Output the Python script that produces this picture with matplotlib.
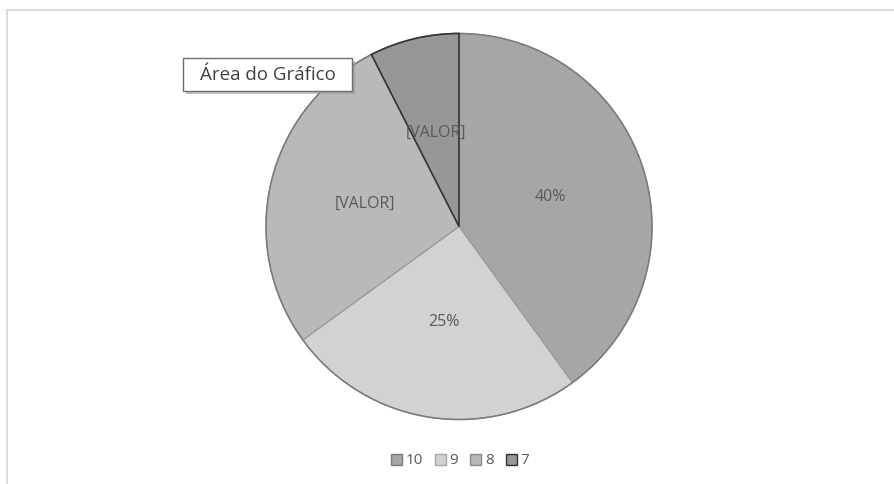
import matplotlib
matplotlib.use("Agg")
import matplotlib.pyplot as plt
from matplotlib.patches import Patch, Rectangle, Circle
from matplotlib.lines import Line2D

plt.rcParams['font.family'] = ['Open Sans', 'DejaVu Sans']

categories = ["10", "9", "8", "7"]
values = [16, 10, 11, 3]
slice_labels = ["40%", "25%", "[VALOR]", "[VALOR]"]
colors = ["#a6a6a6", "#d2d2d2", "#b9b9b9", "#979797"]
legend_edges = ["#7a7a7a", "#a8a8a8", "#8a8a8a", "#333333"]

W, H = 895, 484
fig = plt.figure(figsize=(W / 100, H / 100), dpi=100)

# outer chart border (top and left visible)
fig.add_artist(Line2D([7 / W, 1.0], [1 - 10 / H, 1 - 10 / H], color="#d6d6d6", lw=1.2))
fig.add_artist(Line2D([7 / W, 7 / W], [1 - 10 / H, 0.0], color="#d6d6d6", lw=1.2))

cx, cy, r = 459, 226.5, 193
ax = fig.add_axes([(cx - r) / W, (H - cy - r) / H, 2 * r / W, 2 * r / H])
wedges, texts = ax.pie(values, colors=colors, startangle=90, counterclock=False,
                       labels=slice_labels, labeldistance=0.5,
                       wedgeprops=dict(edgecolor="#9a9a9a", linewidth=0.9, clip_on=False),
                       textprops=dict(color="#595959", fontsize=11.5, ha="center", va="center"))
ax.add_patch(Circle((0, 0), 1, facecolor="none", edgecolor="#7a7a7a", linewidth=1.1,
                    zorder=2, clip_on=False))
wedges[3].set_edgecolor("#333333")
wedges[3].set_linewidth(1.2)
wedges[3].set_zorder(3)
for t in texts:
    t.set_zorder(5)
ax.set_xlim(-1, 1)
ax.set_ylim(-1, 1)
ax.set_aspect("equal")
ax.axis("off")

handles = [Patch(facecolor=c, edgecolor=e, linewidth=1) for c, e in zip(colors, legend_edges)]
leg = fig.legend(handles, categories, loc="center", bbox_to_anchor=(460 / W, 1 - 461 / H),
                 ncol=4, frameon=False, handlelength=0.7, handleheight=0.7,
                 handletextpad=0.25, columnspacing=0.8, fontsize=11)
for t in leg.get_texts():
    t.set_color("#595959")

# tooltip box
bx0, by0, bx1, by1 = 183, 58, 352, 91
shadow = Rectangle(((bx0 + 3) / W, 1 - (by1 + 3) / H), (bx1 - bx0) / W, (by1 - by0) / H,
                   transform=fig.transFigure, facecolor="#9a9a9a", edgecolor="none",
                   alpha=0.6, zorder=9)
fig.add_artist(shadow)
box = Rectangle((bx0 / W, 1 - by1 / H), (bx1 - bx0) / W, (by1 - by0) / H,
                transform=fig.transFigure, facecolor="white", edgecolor="#6e6e6e",
                linewidth=1, zorder=10)
fig.add_artist(box)
fig.text((bx0 + bx1) / 2 / W, 1 - (by0 + by1) / 2 / H, "Área do Gráfico",
         ha="center", va="center", fontsize=13.5, color="#404040", zorder=11)

fig.savefig("out.png", dpi=100)
